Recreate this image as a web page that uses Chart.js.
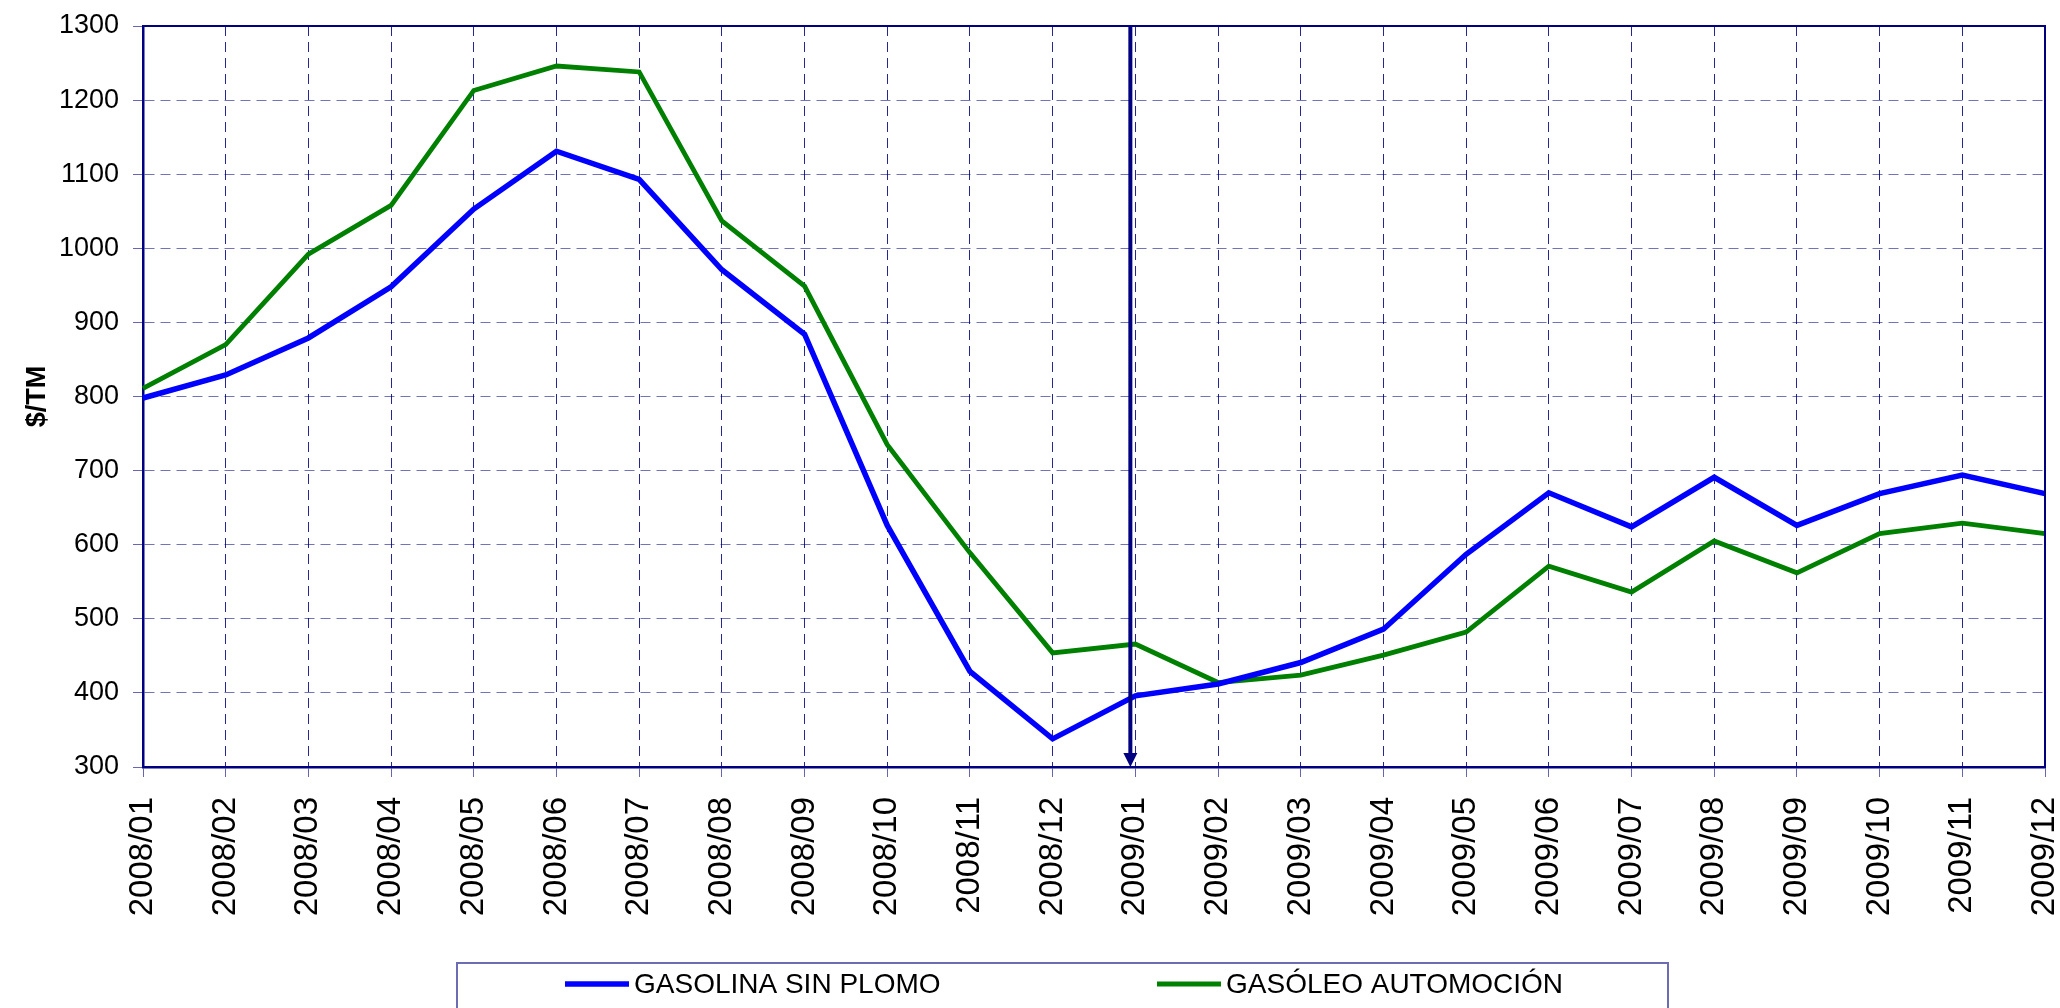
<!DOCTYPE html>
<html><head><meta charset="utf-8">
<script src="https://cdn.jsdelivr.net/npm/chart.js@4.4.0/dist/chart.umd.min.js"></script>
<style>html,body{margin:0;padding:0;background:#fff;} #wrap{width:2060px;height:1008px;position:relative;}</style>
</head><body><div id="wrap"><canvas id="c" width="2060" height="1008"></canvas></div>
<script>
const months = ['2008/01','2008/02','2008/03','2008/04','2008/05','2008/06','2008/07','2008/08','2008/09','2008/10','2008/11','2008/12',
                '2009/01','2009/02','2009/03','2009/04','2009/05','2009/06','2009/07','2009/08','2009/09','2009/10','2009/11','2009/12'];
const gasolina = [798,829,879,948,1053,1131,1093,971,884,626,429,338,396,412,441,486,587,670,624,691,626,669,694,669];
const gasoleo  = [811,870,992,1058,1213,1246,1238,1037,949,735,589,454,466,414,424,451,482,571,536,605,562,615,629,615];
const seriesNames = ['GASOLINA SIN PLOMO','GASÓLEO AUTOMOCIÓN'];
const yMin = 300, yMax = 1300, yStep = 100;
const yTitle = '$/TM';
const eventMonth = '2009/01';

const FONT = "'Liberation Sans', Arial, sans-serif";
const NAVY = '#000080';

const framePlugin = {
  id: 'frame',
  afterDatasetsDraw(chart) {
    const {ctx, chartArea: a, scales: {x}} = chart;
    ctx.save();
    ctx.strokeStyle = NAVY; ctx.lineWidth = 2;
    ctx.beginPath();
    ctx.moveTo(a.left, a.top); ctx.lineTo(a.right, a.top); ctx.lineTo(a.right, a.bottom);
    ctx.stroke();
    const ex = x.getPixelForValue(months.indexOf(eventMonth)) - 5;
    ctx.lineWidth = 4;
    ctx.beginPath(); ctx.moveTo(ex, a.top); ctx.lineTo(ex, a.bottom - 12); ctx.stroke();
    ctx.fillStyle = NAVY;
    ctx.beginPath(); ctx.moveTo(ex - 7, a.bottom - 14); ctx.lineTo(ex + 7, a.bottom - 14); ctx.lineTo(ex, a.bottom); ctx.closePath(); ctx.fill();
    ctx.restore();
  },
  afterDraw(chart) {
    const {ctx} = chart;
    ctx.save();
    ctx.strokeStyle = '#6c6cb4'; ctx.lineWidth = 2;
    ctx.strokeRect(457, 963, 1211, 80);
    const items = [{x: 565}, {x: 1157}];
    chart.data.datasets.forEach((ds, i) => {
      const lx = items[i].x, ly = 984;
      ctx.strokeStyle = ds.borderColor; ctx.lineWidth = ds.borderWidth;
      ctx.beginPath(); ctx.moveTo(lx, ly); ctx.lineTo(lx + 64, ly); ctx.stroke();
      ctx.fillStyle = '#000'; ctx.font = '28px ' + FONT;
      ctx.textBaseline = 'middle'; ctx.textAlign = 'left';
      ctx.fillText(ds.label, lx + 69, ly + 1);
    });
    ctx.restore();
  }
};

new Chart(document.getElementById('c'), {
  type: 'line',
  data: {
    labels: months,
    datasets: [
      {label: seriesNames[0], data: gasolina, borderColor: '#0000FF', borderWidth: 5.5, pointRadius: 0, tension: 0, fill: false},
      {label: seriesNames[1], data: gasoleo, borderColor: '#008000', borderWidth: 4.8, pointRadius: 0, tension: 0, fill: false}
    ]
  },
  options: {
    responsive: false, animation: false, devicePixelRatio: 1,
    layout: {padding: {left: 0, top: 26, right: 15, bottom: 0}},
    plugins: {legend: {display: false}, tooltip: {enabled: false}},
    scales: {
      x: {
        offset: false,
        grid: {color: 'rgba(0,0,128,0.85)', lineWidth: 1, tickLength: 10, tickColor: 'rgba(0,0,128,0.6)', tickBorderDash: []},
        border: {display: true, color: NAVY, width: 2.5, dash: [10, 6]},
        ticks: {autoSkip: false, minRotation: 90, maxRotation: 90, padding: 20, color: '#000', font: {family: FONT, size: 33}},
        afterFit(s) { s.height = 241; s.paddingLeft = 0; s.paddingRight = 0; }
      },
      y: {
        min: yMin, max: yMax,
        grid: {color: 'rgba(0,0,128,0.55)', lineWidth: 1, tickLength: 10, tickColor: 'rgba(0,0,128,0.6)', tickBorderDash: []},
        border: {display: true, color: NAVY, width: 2.5, dash: [10, 6]},
        ticks: {stepSize: yStep, padding: 14, color: '#000', font: {family: FONT, size: 27}, callback: v => String(v)},
        title: {display: true, text: yTitle, color: '#000', font: {family: FONT, size: 27, weight: 'bold'}, padding: {top: 21, bottom: 0}},
        afterFit(s) { s.width = 143; s.paddingTop = 0; s.paddingBottom = 0; }
      }
    }
  },
  plugins: [framePlugin]
});
</script>
</body></html>
